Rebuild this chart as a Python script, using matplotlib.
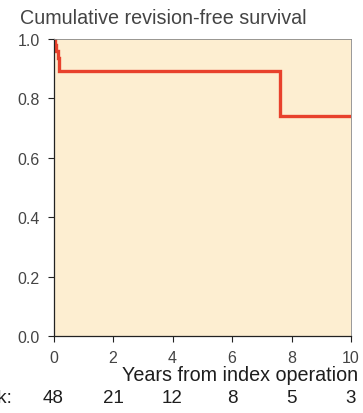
import matplotlib
matplotlib.use('Agg')
import matplotlib.pyplot as plt

plt.rcParams['font.family'] = ['Liberation Sans', 'DejaVu Sans']

# Kaplan-Meier step data (time in years, survival)
times = [0, 0.05, 0.1, 0.15, 0.2, 7.6, 10]
survival = [1.0, 0.979, 0.958, 0.936, 0.892, 0.741, 0.741]

risk_times = [0, 2, 4, 6, 8, 10]
at_risk = [48, 21, 12, 8, 5, 3]

fig = plt.figure(figsize=(3.63, 4.14), dpi=100)
ax = fig.add_axes([53.5 / 363, 1 - 337 / 414, 297.5 / 363, 297 / 414])
ax.set_facecolor('#fdeed1')

ax.step(times, survival, where='post', color='#e8412c', lw=2.4, solid_joinstyle='miter')

ax.set_xlim(0, 10)
ax.set_ylim(0, 1.0)
ax.set_xticks(risk_times)
ax.set_yticks([0, 0.2, 0.4, 0.6, 0.8, 1.0])
ax.set_yticklabels(['0.0', '0.2', '0.4', '0.6', '0.8', '1.0'])
ax.tick_params(colors='#222222', labelcolor='#444444', labelsize=11.5,
               length=4.3, width=0.8, pad=5.5)
for s in ['left', 'bottom']:
    ax.spines[s].set_color('#222222')
    ax.spines[s].set_linewidth(0.9)
for s in ['top', 'right']:
    ax.spines[s].set_color('#888888')
    ax.spines[s].set_linewidth(0.6)

fig.text(358 / 363, 1 - 381 / 414, 'Years from index operation', fontsize=14.2,
         color='#1e1e1e', ha='right', va='baseline')
fig.text(20 / 363, 1 - 24 / 414, 'Cumulative revision-free survival', fontsize=14.2,
         color='#444444', ha='left', va='baseline')

# numbers at risk
for t, n in zip(risk_times, at_risk):
    ax.text(t, -0.222, str(n), transform=ax.get_xaxis_transform(), ha='center',
            va='baseline', fontsize=13.5, color='#1e1e1e')
fig.text(11.5 / 363, 1 - 403 / 414, 'Number at risk:', ha='right', va='baseline',
         fontsize=13.5, color='#1e1e1e')

fig.savefig('out.png', dpi=100)
